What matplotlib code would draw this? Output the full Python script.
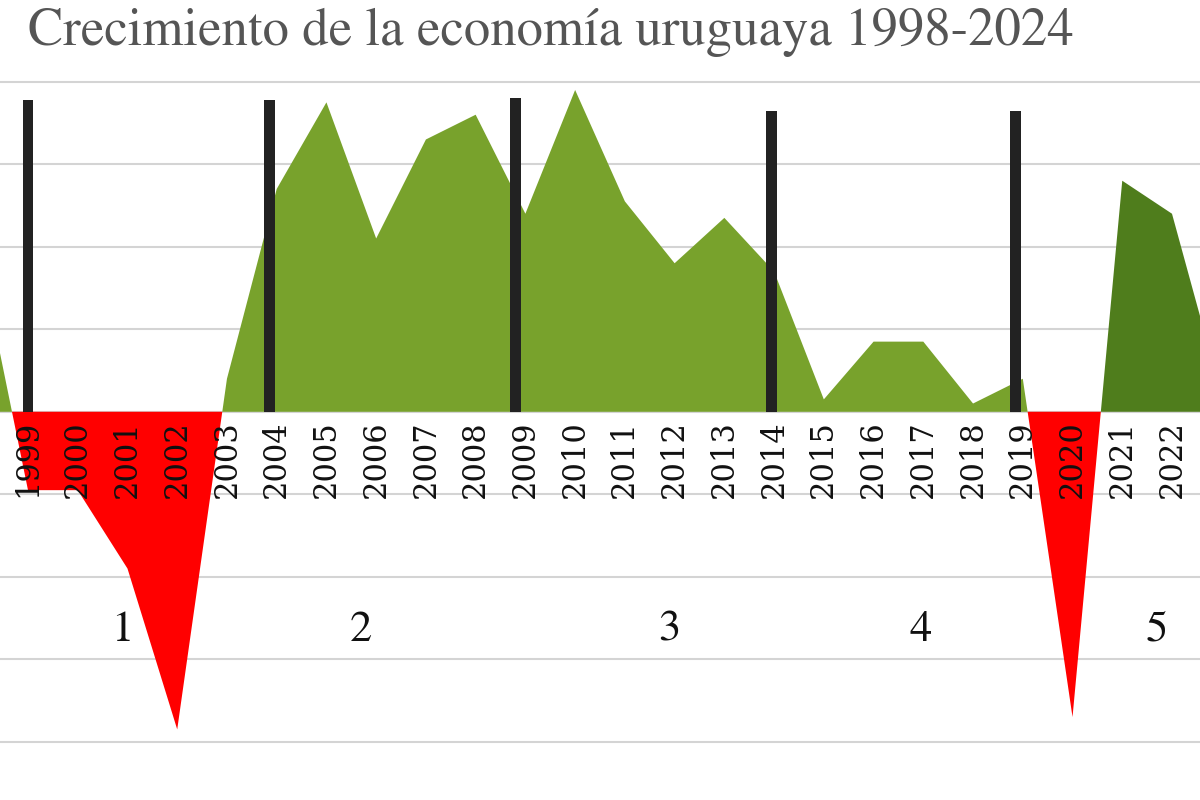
import matplotlib
matplotlib.use("Agg")
import matplotlib.pyplot as plt
import numpy as np
from matplotlib.patches import Rectangle

years = [1998, 1999, 2000, 2001, 2002, 2003, 2004, 2005, 2006, 2007, 2008, 2009, 2010,
         2011, 2012, 2013, 2014, 2015, 2016, 2017, 2018, 2019, 2020, 2021, 2022, 2023]
growth = [4.0, -1.9, -1.9, -3.8, -7.7, 0.8, 5.4, 7.5, 4.2, 6.6, 7.2, 4.8, 7.8,
          5.1, 3.6, 4.7, 3.4, 0.3, 1.7, 1.7, 0.2, 0.8, -7.4, 5.6, 4.8, 0.4]
label_years = list(range(1999, 2023))
boundaries = [1999.0, 2003.85, 2008.8, 2013.95, 2018.85]
boundary_heights = [7.55, 7.55, 7.6, 7.3, 7.3]
period_labels = ["1", "2", "3", "4", "5"]
period_x = [2000.9, 2005.7, 2011.9, 2016.95, 2021.7]
period_y = -5.3

x = np.array(years, dtype=float)
y = np.array(growth)

fig = plt.figure(figsize=(12, 8), dpi=100)
ax = fig.add_axes([0, 0, 1, 0.919])
ax.set_xlim(1998.437, 2022.563)
ax.set_ylim(-9.41, 8.41)
for s in ax.spines.values():
    s.set_visible(False)
ax.set_xticks([]); ax.set_yticks([])

for g in range(-8, 9, 2):
    ax.axhline(g, color="#d4d4d4", lw=1.5, zorder=0)

light = ax.fill_between(x, y, 0, where=y >= 0, interpolate=True, color="#78a22c", lw=0, zorder=1)
light.set_clip_path(Rectangle((1990, -20), 30.4, 40, transform=ax.transData))
dark = ax.fill_between(x, y, 0, where=y >= 0, interpolate=True, color="#4f7d1c", lw=0, zorder=1)
dark.set_clip_path(Rectangle((2020.4, -20), 10, 40, transform=ax.transData))
ax.fill_between(x, y, 0, where=y <= 0, interpolate=True, color="#ff0000", lw=0, zorder=1)

ax.bar(boundaries, boundary_heights, width=0.22, color="#222222", zorder=3)

for yr in label_years:
    ax.text(yr, -0.2, str(yr), rotation=90, ha="center", va="top",
            fontsize=22, family="DejaVu Serif", color="#111111", zorder=4)

for px, lab in zip(period_x, period_labels):
    ax.text(px, period_y, lab, ha="center", va="center", fontsize=32,
            family="STIXGeneral", color="#111111", zorder=4)

fig.text(28 / 1200, 1 - 32 / 800, "Crecimiento de la economía uruguaya 1998-2024",
         ha="left", va="center", fontsize=38, family="STIXGeneral", color="#555555")

fig.savefig("out.png", dpi=100)
